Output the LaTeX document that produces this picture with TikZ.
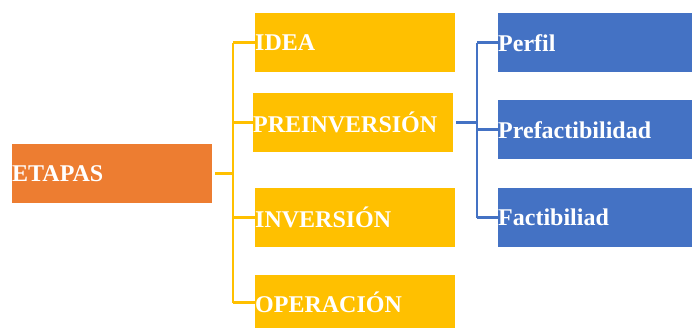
\documentclass[tikz,border=0pt]{standalone}
\usepackage{fontspec}
\setmainfont{Liberation Serif}
\usepackage{tikz}
\usepackage{xcolor}

\definecolor{etorange}{HTML}{ED7D31}
\definecolor{etyellow}{HTML}{FFC000}
\definecolor{etblue}{HTML}{4472C4}

\tikzset{
  etbox/.style={anchor=north west, inner sep=0pt, text width=#1, minimum height=59pt,
    align=left, text=white, font=\bfseries\fontsize{24}{28}\selectfont},
  etbox/.default=200pt,
  yline/.style={etyellow, line width=2.5pt},
  bline/.style={etblue, line width=2.5pt}
}

\begin{document}
\begin{tikzpicture}[x=1pt, y=-1pt]
                \useasboundingbox (0,0) rectangle (692,328);

                % Stage box
                \node[etbox, fill=etorange] (etapas) at (12,144) {ETAPAS};

                % Yellow boxes
                \node[etbox, fill=etyellow] (idea) at (255,13) {IDEA};
                \node[etbox, fill=etyellow] (preinv) at (253,93) {PREINVERSIÓN};
                \node[etbox, fill=etyellow] (inversion) at (255,188) {INVERSIÓN};
                \node[etbox, fill=etyellow, minimum height=55pt] (operacion) at (255,275) {OPERACIÓN};

                % Blue boxes
                \node[etbox=194pt, fill=etblue] (perfil) at (498,13) {Perfil};
                \node[etbox=194pt, fill=etblue] (prefact) at (498,100) {Prefactibilidad};
                \node[etbox=194pt, fill=etblue] (fact) at (498,188) {Factibiliad};

                % Yellow bracket
                \coordinate (ybus) at (233,0);
                \draw[yline] ([xshift=3pt]etapas.east) -- (etapas.east -| ybus);
                \draw[yline] (ybus |- idea.west) -- (ybus |- operacion.west);
                \draw[yline] (ybus |- idea.west) -- (idea.west);
                \draw[yline] (ybus |- preinv.west) -- (preinv.west);
                \draw[yline] (ybus |- inversion.west) -- (inversion.west);
                \draw[yline] (ybus |- operacion.west) -- (operacion.west);

                % Blue bracket
                \coordinate (bbus) at (477,0);
                \draw[bline] ([xshift=3pt]preinv.east) -- (preinv.east -| bbus);
                \draw[bline] (bbus |- perfil.west) -- (bbus |- fact.west);
                \draw[bline] (bbus |- perfil.west) -- (perfil.west);
                \draw[bline] (bbus |- prefact.west) -- (prefact.west);
                \draw[bline] (bbus |- fact.west) -- (fact.west);
\end{tikzpicture}
\end{document}
